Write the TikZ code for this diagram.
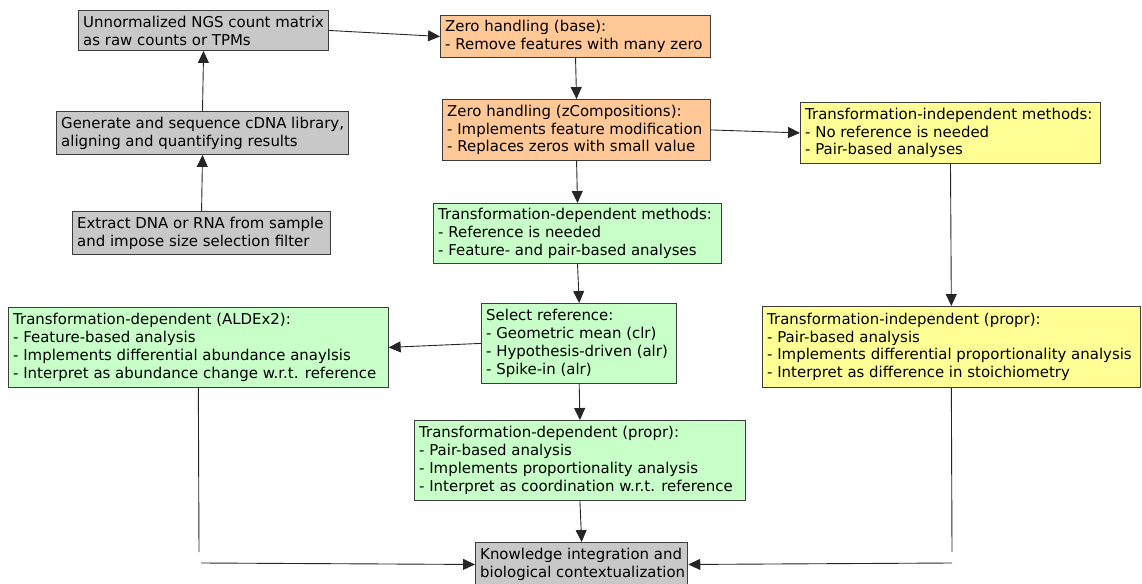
\documentclass[tikz,border=0pt]{standalone}
\usepackage{fontspec}
\setmainfont{DejaVu Sans}
\usetikzlibrary{arrows.meta}
\definecolor{cgray}{RGB}{200,200,200}
\definecolor{corange}{RGB}{255,200,150}
\definecolor{cgreen}{RGB}{200,255,200}
\definecolor{cyellow}{RGB}{255,255,150}
\definecolor{cborder}{RGB}{60,60,60}
\tikzset{
  box/.style={draw=cborder, line width=1.1pt, anchor=north west, inner sep=0pt},
  boxtext/.style={anchor=west, align=left, inner sep=0pt, font=\fontsize{15}{18}\selectfont},
  conn/.style={line width=0.9pt, draw=black!85},
  arr/.style={conn, -{Triangle[length=12pt,width=11pt]}},
}
\newcommand{\mybox}[7]{%
  % name, x, y, w, h, fill, text
  \node[box, fill=#6, minimum width=#4, minimum height=#5] (#1) at (#2,#3) {};
  \node[boxtext] (#1t) at ([xshift=5bp]#1.west) {#7};}
\begin{document}
\begin{tikzpicture}[x=1bp,y=-1bp]
\useasboundingbox (0,0) rectangle (1142,584);
\mybox{A}{78}{10}{251}{40}{cgray}{Unnormalized NGS count matrix\\as raw counts or TPMs}
\mybox{B}{56}{111}{293}{43}{cgray}{Generate and sequence cDNA library,\\aligning and quantifying results}
\mybox{C}{72}{211}{259}{43}{cgray}{Extract DNA or RNA from sample\\and impose size selection filter}
\mybox{D}{440}{15}{271}{42}{corange}{Zero handling (base):\\- Remove features with many zero}
\mybox{E}{442}{99}{269}{61}{corange}{Zero handling (zCompositions):\\- Implements feature modification\\- Replaces zeros with small value}
\mybox{F}{800}{102}{301}{61}{cyellow}{Transformation-independent methods:\\- No reference is needed\\- Pair-based analyses}
\mybox{G}{433}{203}{289}{60}{cgreen}{Transformation-dependent methods:\\- Reference is needed\\- Feature- and pair-based analyses}
\mybox{H}{481}{303}{196}{80}{cgreen}{Select reference:\\- Geometric mean (clr)\\- Hypothesis-driven (alr)\\- Spike-in (alr)}
\mybox{L}{8}{307}{381}{80}{cgreen}{Transformation-dependent (ALDEx2):\\- Feature-based analysis\\- Implements differential abundance anaylsis\\- Interpret as abundance change w.r.t. reference}
\mybox{I}{762}{306}{379}{81}{cyellow}{Transformation-independent (propr):\\- Pair-based analysis\\- Implements differential proportionality analysis\\- Interpret as difference in stoichiometry}
\mybox{J}{414}{420}{332}{80}{cgreen}{Transformation-dependent (propr):\\- Pair-based analysis\\- Implements proportionality analysis\\- Interpret as coordination w.r.t. reference}
\mybox{K}{475}{542}{213}{44}{cgray}{Knowledge integration and\\biological contextualization}

\draw[arr] (C.north) -- (B.south);
\draw[arr] (B.north) -- (A.south);
\draw[arr] (A.east) -- (D.west);
\draw[arr] (D.south) -- (E.north);
\draw[arr] (E.east) -- (F.west);
\draw[arr] (E.south) -- (G.north);
\draw[arr] (F.south) -- (I.north);
\draw[arr] (G.south) -- (H.north);
\draw[arr] (H.west) -- (L.east);
\draw[arr] (H.south) -- (J.north);
\draw[arr] (J.south) -- (K.north);
\coordinate (l1) at (199,552);
\coordinate (l2) at (201,563);
\coordinate (r1) at (952,552);
\coordinate (r2) at (952,563);
\draw[conn] (L.south) -- (l1);
\draw[arr] (l2) -- (K.west);
\draw[conn] (I.south) -- (r1);
\draw[arr] (r2) -- (K.east);
\end{tikzpicture}
\end{document}
